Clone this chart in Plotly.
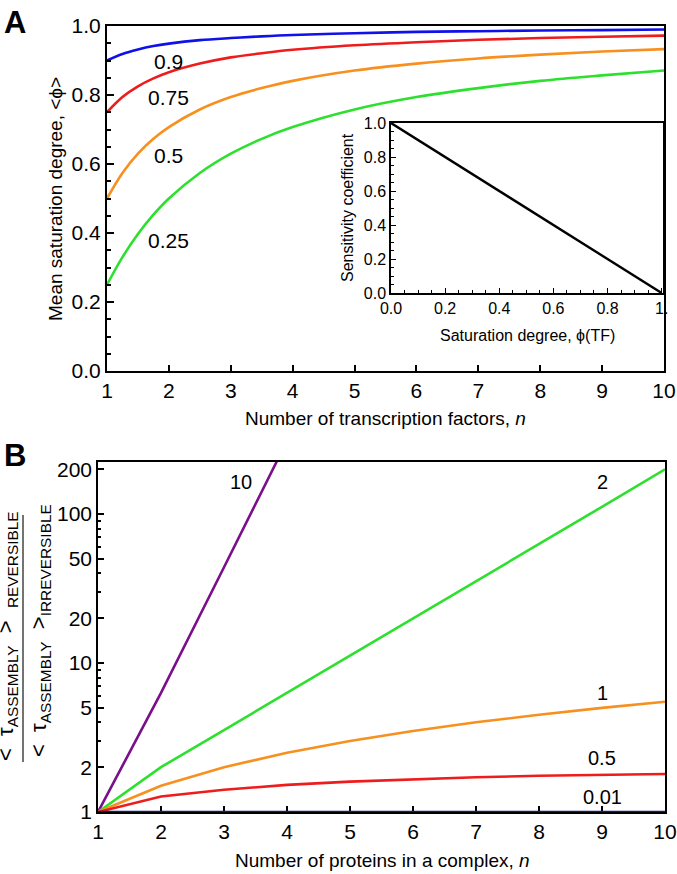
import math
import plotly.graph_objects as go

FONT = "Arial, Liberation Sans, sans-serif"
W, H = 677, 874

# ---- panel A: mean saturation degree vs number of transcription factors
n_a = [1, 1.25, 1.5, 1.75, 2, 2.5, 3, 3.5, 4, 5, 6, 7, 8, 9, 10]
phi_09 = [0.900, 0.919, 0.932, 0.942, 0.949, 0.959, 0.965, 0.970, 0.974, 0.979, 0.983, 0.985, 0.987, 0.988, 0.990]
phi_075 = [0.750, 0.794, 0.825, 0.848, 0.866, 0.891, 0.909, 0.921, 0.931, 0.944, 0.953, 0.960, 0.965, 0.969, 0.972]
phi_05 = [0.500, 0.574, 0.630, 0.673, 0.707, 0.758, 0.794, 0.820, 0.841, 0.871, 0.891, 0.906, 0.917, 0.926, 0.933]
phi_025 = [0.250, 0.330, 0.397, 0.453, 0.500, 0.574, 0.630, 0.673, 0.707, 0.758, 0.794, 0.820, 0.841, 0.857, 0.871]
a_labels = ["0.9", "0.75", "0.5", "0.25"]
a_label_x = [2.0, 2.0, 2.0, 2.0]
a_label_y = [0.896, 0.794, 0.626, 0.377]

# inset: sensitivity coefficient vs saturation degree
inset_phi = [0.0, 1.0]
inset_sens = [1.0, 0.0]

# ---- panel B: assembly time ratio vs complex size
n_b = [1, 2, 3, 4, 5, 6, 7, 8, 9, 10]
ratio_10 = [1, 6.3, 44, 310]
ratio_2 = [1, 2, 3.55, 6.3, 11.2, 20, 35.5, 63, 112, 200]
ratio_1 = [1, 1.5, 2, 2.5, 3, 3.5, 4, 4.5, 5, 5.5]
ratio_05 = [1, 1.27, 1.41, 1.52, 1.6, 1.66, 1.71, 1.75, 1.78, 1.8]
ratio_001 = [1, 1, 1, 1, 1, 1, 1, 1, 1, 1]
b_labels = ["10", "2", "1", "0.5", "0.01"]
b_label_x = [3.27, 9.0, 9.0, 9.0, 9.0]
b_label_y = [164, 164, 6.3, 2.3, 1.26]

BLUE, RED, ORANGE, GREEN = "#1010e8", "#ee1c1c", "#f7901e", "#2ee02e"
PURPLE, NAVY = "#7a0f8a", "#101a80"


def px_x(p):
    return p / W


def px_y(p):
    return 1 - p / H


fig = go.Figure()

for ys, col in [(phi_09, BLUE), (phi_075, RED), (phi_05, ORANGE), (phi_025, GREEN)]:
    fig.add_trace(go.Scatter(x=n_a, y=ys, mode="lines", line=dict(color=col, width=2.6, shape="spline"),
                             xaxis="x", yaxis="y", showlegend=False))

fig.add_trace(go.Scatter(x=inset_phi, y=inset_sens, mode="lines", line=dict(color="black", width=2.4),
                         xaxis="x2", yaxis="y2", showlegend=False))

for xs, ys, col in [(n_b[:len(ratio_10)], ratio_10, PURPLE), (n_b, ratio_2, GREEN), (n_b, ratio_1, ORANGE),
                    (n_b, ratio_05, RED), (n_b, ratio_001, NAVY)]:
    fig.add_trace(go.Scatter(x=xs, y=ys, mode="lines", line=dict(color=col, width=2.6),
                             xaxis="x3", yaxis="y3", showlegend=False))

tickfont = dict(family=FONT, size=21, color="black")
small = dict(family=FONT, size=16, color="black")
axis_common = dict(showline=True, linecolor="black", ticks="inside", tickcolor="black",
                   showgrid=False, zeroline=False, mirror=True, automargin=False)

fig.update_layout(
    width=W, height=H, margin=dict(l=0, r=0, t=0, b=0, autoexpand=False),
    paper_bgcolor="white", plot_bgcolor="white",
    font=dict(family=FONT, color="black"),
    xaxis=dict(axis_common, domain=[px_x(107), px_x(664)], range=[1, 10], dtick=1, tick0=1,
               linewidth=2, tickwidth=1.5, ticklen=6, tickfont=tickfont, anchor="y"),
    yaxis=dict(axis_common, domain=[px_y(371), px_y(26)], range=[0, 1], dtick=0.2, tickformat=".1f",
               linewidth=2, tickwidth=1.5, ticklen=7, tickfont=tickfont, anchor="x",
               minor=dict(dtick=0.05, ticks="inside", ticklen=4, tickcolor="black")),
    xaxis2=dict(axis_common, domain=[px_x(391), px_x(663)], range=[0, 1.005],
                tickvals=[0, 0.2, 0.4, 0.6, 0.8, 1.0], ticktext=["0.0", "0.2", "0.4", "0.6", "0.8", "1."],
                linewidth=1.5, ticklen=5, tickfont=small, anchor="y2",
                minor=dict(dtick=0.05, ticks="inside", ticklen=3, tickcolor="black")),
    yaxis2=dict(axis_common, domain=[px_y(293), px_y(123)], range=[0, 1], dtick=0.2, tickformat=".1f",
                linewidth=1.5, ticklen=5, tickfont=small, anchor="x2",
                minor=dict(dtick=0.05, ticks="inside", ticklen=3, tickcolor="black")),
    xaxis3=dict(axis_common, domain=[px_x(98), px_x(665)], range=[1, 10], dtick=1, tick0=1,
                linewidth=1.5, tickwidth=1.5, ticklen=6, tickfont=tickfont, anchor="y3", layer="below traces"),
    yaxis3=dict(axis_common, domain=[px_y(812), px_y(462)], type="log", range=[0, 2.35],
                tickvals=[1, 2, 5, 10, 20, 50, 100, 200], ticktext=["1", "2", "5", "10", "20", "50", "100", "200"],
                linewidth=1.5, tickwidth=1.5, ticklen=6, tickfont=tickfont, anchor="x3",
                minor=dict(tickvals=[3, 4, 6, 7, 8, 9, 30, 40, 60, 70, 80, 90, 300], ticks="inside",
                           ticklen=3, tickcolor="black")),
)

ann = []
for t, x, y in zip(a_labels, a_label_x, a_label_y):
    ann.append(dict(text=t, x=x, y=y, xref="x", yref="y", showarrow=False, font=dict(family=FONT, size=21)))
for t, x, y in zip(b_labels, b_label_x, b_label_y):
    ann.append(dict(text=t, x=x, y=math.log10(y), xref="x3", yref="y3", showarrow=False,
                    font=dict(family=FONT, size=20)))


def paper_text(text, x, y, size, angle=0, xanchor="center", yanchor="middle"):
    ann.append(dict(text=text, x=px_x(x), y=px_y(y), xref="paper", yref="paper", showarrow=False,
                    xanchor=xanchor, yanchor=yanchor, textangle=angle,
                    font=dict(family=FONT, size=size, color="black")))


# axis titles
paper_text("Number of transcription factors, <i>n</i>", 385, 419, 19)
paper_text("Mean saturation degree, &lt;ϕ&gt;", 55, 199, 19, angle=-90)
paper_text("Saturation degree, ϕ(TF)", 527, 335, 16)
paper_text("Sensitivity coefficient", 347, 208, 16, angle=-90)
paper_text("Number of proteins in a complex, <i>n</i>", 382, 860, 19)

# panel letters
paper_text("<b>A</b>", 2, 3, 31, xanchor="left", yanchor="top")
paper_text("<b>B</b>", 2, 436, 31, xanchor="left", yanchor="top")

# panel B y-axis title as a stacked fraction
paper_text("&lt;  τ<sub>ASSEMBLY</sub>  &gt;  <sub>REVERSIBLE</sub>", 7, 636, 22, angle=-90)
paper_text("&lt;  τ<sub>ASSEMBLY</sub>  &gt;<sub>IRREVERSIBLE</sub>", 40, 631, 22, angle=-90)
fig.update_layout(annotations=ann)
fig.add_shape(type="line", xref="paper", yref="paper", x0=px_x(23), x1=px_x(23), y0=px_y(515), y1=px_y(762),
              line=dict(color="#444", width=1.5))

fig.write_html("out.html", config={"displayModeBar": False},
               post_script="document.body.style.margin='0';")
